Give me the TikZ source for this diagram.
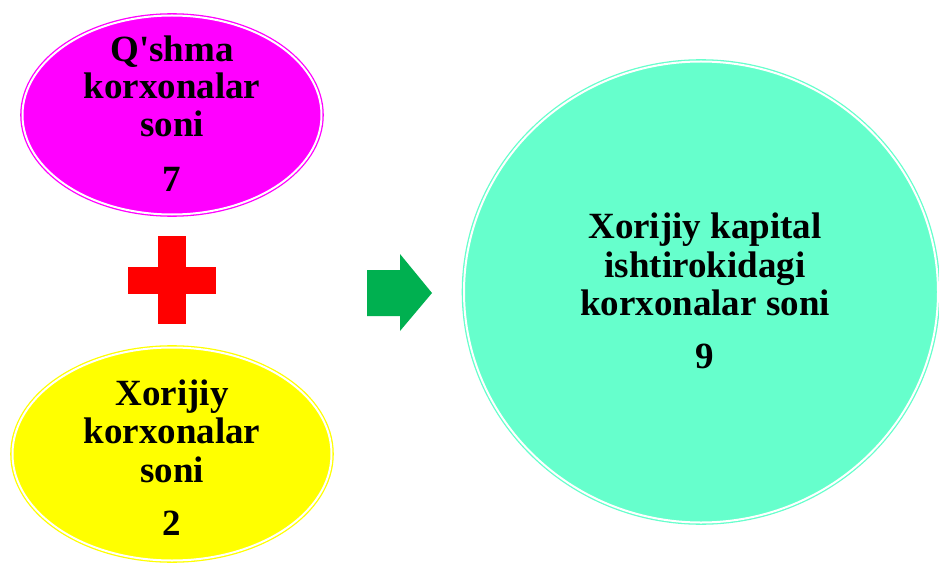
\documentclass[tikz,border=0pt]{standalone}
\usepackage{fontspec}
\setmainfont{Liberation Serif}
\usetikzlibrary{shapes.geometric}
\definecolor{cmag}{HTML}{FF00FF}
\definecolor{cyel}{HTML}{FFFF00}
\definecolor{caqua}{HTML}{66FFCC}
\definecolor{cred}{HTML}{FF0000}
\definecolor{cgreen}{HTML}{00B050}
\tikzset{
  blob/.style={ellipse, inner sep=0pt, line width=1.3pt, double=white, double distance=2pt},
  lbl/.style={anchor=base, inner sep=0pt, font=\fontsize{37}{37}\selectfont\bfseries, text=black},
}
\begin{document}
\begin{tikzpicture}[x=1pt,y=-1pt]
\useasboundingbox (0,0) rectangle (939,564);
\begin{scope}
\clip (0,0) rectangle (939,564);
\node[blob, draw=cmag, fill=cmag, minimum width=299pt, minimum height=199pt] (q) at (172,115) {};
\node[blob, draw=cyel, fill=cyel, minimum width=319pt, minimum height=213pt] (x) at (172,454) {};
\node[blob, draw=caqua, fill=caqua, minimum width=474pt, minimum height=461pt] (c) at (701,292) {};
\end{scope}
% plus
\fill[cred] (158,236) rectangle (186,324);
\fill[cred] (128,267) rectangle (216,294);
% arrow
\fill[cgreen] (367,270) -- (400,270) -- (400,254) -- (432,293) -- (400,331) -- (400,316) -- (367,316) -- cycle;
% texts
\node[lbl] (q1) at (172,62) {Q\textquotesingle shma};
\node[lbl] (q2) at (172,99) {korxonalar};
\node[lbl] (q3) at (172,137) {soni};
\node[lbl] (q4) at (172,192) {7};
\node[lbl] (x1) at (172,405) {Xorijiy};
\node[lbl] (x2) at (172,443) {korxonalar};
\node[lbl] (x3) at (172,482) {soni};
\node[lbl] (x4) at (172,535) {2};
\node[lbl] (c1) at (705,238) {Xorijiy kapital};
\node[lbl] (c2) at (705,277) {ishtirokidagi};
\node[lbl] (c3) at (705,315) {korxonalar soni};
\node[lbl] (c4) at (705,368) {9};
\end{tikzpicture}
\end{document}
